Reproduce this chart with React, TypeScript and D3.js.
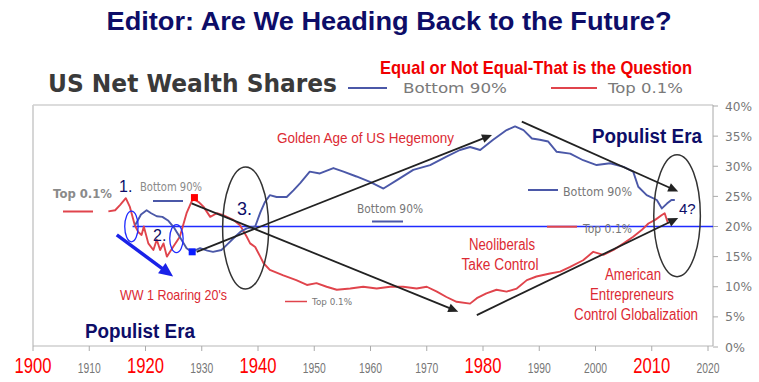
import React from "react";
import * as d3 from "d3";

const bottom90: [number, number][] = [
  [1918.2, 20.3], [1919.2, 22.0], [1920.2, 22.7], [1921, 22.2], [1922, 21.7], [1923, 21.6],
  [1924, 21.0], [1925, 19.9], [1926.4, 17.8], [1927.3, 16.4], [1928.2, 15.8], [1929.7, 16.4],
  [1931, 16.0], [1932, 15.8], [1933.5, 16.1], [1934.5, 17.0], [1935.6, 18.0], [1937, 19.2],
  [1938, 19.7], [1939.5, 20.0], [1940.4, 22.3], [1941.2, 24.0], [1942.1, 25.2], [1943.3, 24.9],
  [1945.1, 24.9], [1946.3, 26.0], [1947.5, 27.2], [1949.2, 29.1], [1951, 28.8], [1953.4, 29.7],
  [1955.2, 29.1], [1957.5, 28.3], [1959.9, 27.4], [1962.3, 26.3], [1964.7, 27.7], [1967.6, 29.4],
  [1970.6, 30.2], [1973.5, 31.6], [1975.9, 32.7], [1977.7, 33.2], [1979.5, 32.7], [1981.8, 34.4],
  [1984.2, 36.0], [1985.7, 36.6], [1987.2, 36.0], [1988.7, 34.6], [1990.1, 34.4], [1991.6, 34.1],
  [1993.1, 32.4], [1995.5, 32.1], [1997.8, 31.0], [2000.2, 30.2], [2002.6, 30.5], [2005, 29.9],
  [2006.7, 29.1], [2007.6, 26.6], [2009.1, 25.2], [2010.9, 24.4], [2011.8, 23.0], [2012.7, 23.8],
  [2013.5, 24.4], [2014.1, 24.4],
];

const top01: [number, number][] = [
  [1913.4, 22.5], [1914.6, 22.7], [1915.5, 23.6], [1916.5, 24.7], [1917.2, 23.3], [1918.1, 20.2],
  [1918.7, 19.1], [1919.3, 18.6], [1919.7, 20.0], [1920.5, 17.2], [1921.4, 16.1], [1922, 17.8],
  [1922.6, 16.1], [1923.2, 17.2], [1923.8, 15.0], [1924.9, 16.6], [1926.1, 18.3], [1927.3, 22.2],
  [1928.4, 24.6], [1929.4, 24.1], [1930.3, 23.3], [1931.5, 21.6], [1932.7, 22.2], [1933.8, 21.9],
  [1935.6, 21.1], [1936.8, 20.2], [1938, 18.3], [1938.6, 17.2], [1939.5, 16.6], [1940.4, 15.0],
  [1941, 13.9], [1942.1, 12.8], [1944.5, 11.9], [1946.8, 11.1], [1948.7, 10.3], [1950.4, 10.6],
  [1952.2, 10.0], [1954, 9.5], [1956.4, 9.7], [1958.7, 10.0], [1961.1, 9.7], [1963.5, 10.0],
  [1965.8, 10.0], [1968.2, 9.7], [1970, 10.0], [1971.8, 9.2], [1973.5, 8.3], [1975.3, 7.5],
  [1977.7, 7.2], [1978.9, 8.1], [1980.6, 8.9], [1982.4, 9.5], [1984.2, 9.2], [1986, 9.7],
  [1987.8, 11.1], [1989.5, 11.7], [1991.9, 12.2], [1993.7, 12.5], [1995.5, 13.3], [1997.8, 14.4],
  [1999.6, 15.8], [2001.4, 15.3], [2003.2, 16.1], [2005, 17.2], [2006.7, 18.3], [2008.2, 19.4],
  [2009.4, 20.5], [2010.6, 21.1], [2011.8, 21.9], [2012.3, 22.2], [2012.9, 20.5],
];

const xTicks = [1900, 1910, 1920, 1930, 1940, 1950, 1960, 1970, 1980, 1990, 2000, 2010, 2020];
const xBigTicks = [1900, 1920, 1940, 1980, 2010];
const yTicks = [0, 5, 10, 15, 20, 25, 30, 35, 40];

// annotation arrows in data space: [x1, y1, x2, y2]
const trendArrows: [number, number, number, number][] = [
  [1929.1, 15.8, 1981.6, 35.2],
  [1928.2, 23.85, 1975.6, 5.86],
  [1986.9, 37.4, 2014.7, 25.8],
  [1978.9, 5.3, 2014.7, 21.4],
];

const W = 759, H = 382;
const x = d3.scaleLinear().domain([1900, 2020]).range([33, 708]);
const y = d3.scaleLinear().domain([0, 40]).range([347, 106]);
const line = d3.line<[number, number]>().x(d => x(d[0])).y(d => y(d[1]));

const BLUE = "#4b58a8";
const RED = "#e0444c";
const ARED = "#dc2a33";
const NAVY = "#0d0d68";
const GRAY = "#7a7a7a";

function T(props: any) {
  const { children, len, ...rest } = props;
  return (
    <text {...rest} textLength={len} lengthAdjust={len ? "spacingAndGlyphs" : undefined}>
      {children}
    </text>
  );
}

function Arrow({ x1, y1, x2, y2, color, width, head }: any) {
  const ang = Math.atan2(y2 - y1, x2 - x1);
  const hl = head, hw = head * 0.45;
  const bx = x2 - hl * Math.cos(ang), by = y2 - hl * Math.sin(ang);
  const p1 = [bx + hw * Math.sin(ang), by - hw * Math.cos(ang)];
  const p2 = [bx - hw * Math.sin(ang), by + hw * Math.cos(ang)];
  const lx = x2 - hl * 0.8 * Math.cos(ang), ly = y2 - hl * 0.8 * Math.sin(ang);
  return (
    <g>
      <line x1={x1} y1={y1} x2={lx} y2={ly} stroke={color} strokeWidth={width} />
      <polygon points={`${x2},${y2} ${p1[0]},${p1[1]} ${p2[0]},${p2[1]}`} fill={color} />
    </g>
  );
}

export default function App() {
  const axisTop = 105, axisBottom = 346, axisLeft = 33, axisRight = 713;
  const sans = "Liberation Sans, Arial, sans-serif";
  const wide = "DejaVu Sans, sans-serif";
  return (
    <svg width={W} height={H} style={{ position: "absolute", left: 0, top: 0, background: "#fff" }}>
      <rect width={W} height={H} fill="#fff" />
      {/* Title */}
      <T x={389} y={30} len={565} textAnchor="middle" fontFamily={sans} fontWeight="bold" fontSize={26} fill={NAVY}>
        Editor: Are We Heading Back to the Future?
      </T>
      <T x={48} y={92} len={289} fontFamily={wide} fontWeight="bold" fontSize={24} fill="#3a3a3a">
        US Net Wealth Shares
      </T>
      <T x={380} y={74} len={312} fontFamily={sans} fontWeight="bold" fontSize={19} fill="#f00000">
        Equal or Not Equal-That is the Question
      </T>
      {/* legend */}
      <line x1={348} x2={387} y1={88} y2={88} stroke={BLUE} strokeWidth={2} />
      <T x={403} y={93} len={104} fontFamily={wide} fontSize={14} fill={GRAY}>Bottom 90%</T>
      <line x1={551} x2={597} y1={88} y2={88} stroke={RED} strokeWidth={2} />
      <T x={608} y={93} len={75} fontFamily={wide} fontSize={14} fill={GRAY}>Top 0.1%</T>

      {/* frame */}
      <line x1={axisLeft} x2={axisLeft} y1={axisTop} y2={axisBottom} stroke="#c8c8c8" strokeWidth={1.5} />
      <line x1={axisLeft} x2={axisRight} y1={axisTop} y2={axisTop} stroke="#d0d0d0" strokeWidth={1.5} />
      <line x1={axisLeft} x2={axisRight} y1={axisBottom} y2={axisBottom} stroke="#b8b8b8" strokeWidth={1.2} />
      <line x1={axisRight} x2={axisRight} y1={axisTop} y2={axisBottom} stroke="#a8a8a8" strokeWidth={1} />
      {xTicks.map(t => (
        <line key={"xt" + t} x1={x(t)} x2={x(t)} y1={axisBottom} y2={axisBottom + 5} stroke="#aaa" strokeWidth={1} />
      ))}
      {xTicks.map(t =>
        xBigTicks.includes(t) ? (
          <T key={"xl" + t} x={x(t)} y={373} len={37} textAnchor="middle" fontFamily={sans} fontSize={22} fill="#ff0000">{t}</T>
        ) : (
          <T key={"xl" + t} x={x(t)} y={373} len={23} textAnchor="middle" fontFamily={sans} fontSize={15} fill="#777">{t}</T>
        )
      )}
      {yTicks.map(t => (
        <g key={"yt" + t}>
          <line x1={axisRight} x2={axisRight + 5} y1={y(t)} y2={y(t)} stroke="#aaa" strokeWidth={1} />
          <T x={725} y={y(t) + 4.5} len={t >= 10 ? 27 : 20} fontFamily={wide} fontSize={12.5} fill="#777">{t + "%"}</T>
        </g>
      ))}

      {/* 20% reference line */}
      <line x1={x(1917.7)} x2={axisRight} y1={y(20)} y2={y(20)} stroke="#1f2bff" strokeWidth={1.3} />

      {/* series */}
      <path d={line(top01) || ""} fill="none" stroke={RED} strokeWidth={1.9} strokeLinejoin="round" />
      <path d={line(bottom90) || ""} fill="none" stroke={BLUE} strokeWidth={1.9} strokeLinejoin="round" />

      {/* in-chart legend labels */}
      <T x={53} y={198} len={59} fontFamily={wide} fontWeight="bold" fontSize={12} fill="#8a8a8a">Top 0.1%</T>
      <line x1={63} x2={93} y1={211.5} y2={211.5} stroke={RED} strokeWidth={2} />
      <T x={140} y={191} len={62} fontFamily={wide} fontSize={12} fill="#8a8a8a">Bottom 90%</T>
      <line x1={153} x2={183} y1={201} y2={201} stroke={BLUE} strokeWidth={2} />
      <T x={357} y={213} len={66} fontFamily={wide} fontSize={12} fill="#777">Bottom 90%</T>
      <line x1={372} x2={403} y1={221.5} y2={221.5} stroke={BLUE} strokeWidth={2} />
      <T x={312} y={305} len={40} fontFamily={wide} fontSize={8} fill="#777">Top 0.1%</T>
      <line x1={285} x2={307} y1={301.5} y2={301.5} stroke={RED} strokeWidth={1.5} />
      <T x={563} y={195.5} len={69} fontFamily={wide} fontSize={13} fill="#777">Bottom 90%</T>
      <line x1={528} x2={558} y1={190} y2={190} stroke={BLUE} strokeWidth={2} />
      <T x={583} y={233} len={49} fontFamily={wide} fontSize={12} fill="#777">Top 0.1%</T>
      <line x1={547} x2={577} y1={226.7} y2={226.7} stroke={RED} strokeWidth={2} />

      {/* ellipses */}
      <ellipse cx={x(1917.5)} cy={y(20)} rx={6.7} ry={15.3} fill="none" stroke="#1f2bff" strokeWidth={1.3} />
      <ellipse cx={x(1925.5)} cy={y(18)} rx={6.7} ry={14} fill="none" stroke="#1f2bff" strokeWidth={1.3} />
      <ellipse cx={x(1937.8)} cy={y(19.75)} rx={23} ry={61} fill="none" stroke="#333" strokeWidth={1.5} />
      <ellipse cx={x(2014.5)} cy={y(21.8)} rx={23.3} ry={61} fill="none" stroke="#333" strokeWidth={1.5} />

      {/* arrows */}
      {trendArrows.map((a, i) => (
        <Arrow key={"a" + i} x1={x(a[0])} y1={y(a[1])} x2={x(a[2])} y2={y(a[3])} color="#222" width={1.8} head={10} />
      ))}
      <Arrow x1={x(1914.9)} y1={y(18.6)} x2={x(1924.9)} y2={y(11.7)} color="#1a22e8" width={3.5} head={14} />

      {/* squares */}
      <rect x={x(1928.3) - 3.5} y={y(15.8) - 3.5} width={7} height={7} fill="#0a1cff" />
      <rect x={x(1928.7) - 3.5} y={y(24.8) - 3.5} width={7} height={7} fill="#ff0000" />

      {/* numbers */}
      <T x={119} y={192} fontFamily={sans} fontSize={16} fill={NAVY}>1.</T>
      <T x={153} y={241} fontFamily={sans} fontSize={16} fill={NAVY}>2.</T>
      <T x={237} y={215} fontFamily={sans} fontSize={18} fill={NAVY}>3.</T>
      <T x={679} y={214} fontFamily={sans} fontSize={15} fill={NAVY}>4?</T>

      {/* red annotations */}
      <T x={277} y={143} len={177} fontFamily={sans} fontSize={15} fill={ARED}>Golden Age of US Hegemony</T>
      <T x={502} y={250} len={66} textAnchor="middle" fontFamily={sans} fontSize={16} fill={ARED}>Neoliberals</T>
      <T x={500} y={270} len={77} textAnchor="middle" fontFamily={sans} fontSize={16} fill={ARED}>Take Control</T>
      <T x={633} y={280} len={56} textAnchor="middle" fontFamily={sans} fontSize={16} fill={ARED}>American</T>
      <T x={632} y={300} len={84} textAnchor="middle" fontFamily={sans} fontSize={16} fill={ARED}>Entrepreneurs</T>
      <T x={636} y={320} len={124} textAnchor="middle" fontFamily={sans} fontSize={16} fill={ARED}>Control Globalization</T>
      <T x={120} y={300} len={107} fontFamily={sans} fontSize={15} fill={ARED}>WW 1 Roaring 20's</T>

      {/* Populist Era */}
      <T x={85} y={338} len={110} fontFamily={sans} fontWeight="bold" fontSize={20} fill={NAVY}>Populist Era</T>
      <T x={592} y={143} len={110} fontFamily={sans} fontWeight="bold" fontSize={20} fill={NAVY}>Populist Era</T>
    </svg>
  );
}
